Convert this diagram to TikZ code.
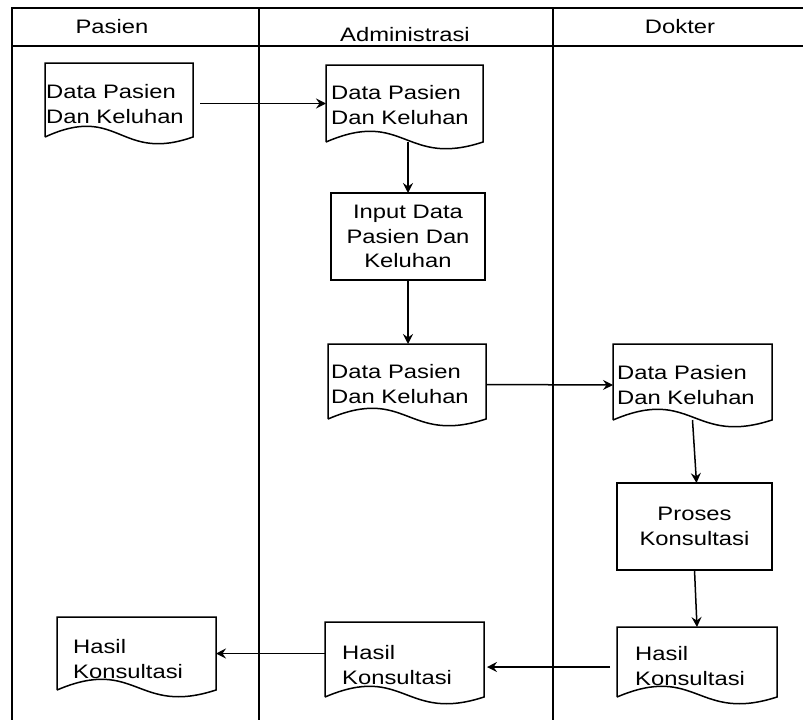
\documentclass[tikz,border=0pt]{standalone}
\usepackage{fontspec}
\setmainfont{Liberation Sans}[FakeStretch=1.22]
\usetikzlibrary{arrows.meta,calc}

\tikzset{
  lane/.style={line width=1.5pt},
  flow/.style={line width=1.5pt, -{Stealth[length=10pt,width=10pt,inset=3.5pt]}},
  docnode/.style={inner sep=0pt, outer sep=0pt},
  procbox/.style={draw, line width=1.5pt, align=center, inner sep=0pt, outer sep=0pt},
  doctext/.style={anchor=base west, align=left, inner sep=0pt},
  head/.style={inner sep=0pt},
}

% document symbol: name, left, top, right, bottom of the straight part
\newcommand\docshape[5]{%
  \node[docnode, minimum width={#4-#2}, minimum height={#5-#3}] (#1) at ({(#2+#4)/2},{(#3+#5)/2}) {};
  \draw[line width=1.5pt] (#1.south west) -- (#1.north west) -- (#1.north east) -- (#1.south east)
    .. controls ($(#1.south)+(0,26)$) and ($(#1.south)+(0,-34)$) .. (#1.south west);
}

\begin{document}
\begin{tikzpicture}[x=1pt, y=-1pt, font=\fontsize{19.5}{24.5}\selectfont]
\useasboundingbox (0,0) rectangle (803,720);

% swimlane frame
\draw[lane] (12,720) -- (12,8) -- (803,8);
\draw[lane] (12,46) -- (803,46);
\draw[lane] (259,8) -- (259,720);
\draw[lane] (553,8) -- (553,720);

% lane titles
\node[head] (hPasien) at (112,27) {Pasien};
\node[head] (hAdmin) at (405,35) {Administrasi};
\node[head] (hDokter) at (680,27) {Dokter};

% documents (text anchored on the baseline of its last line)
\docshape{d1}{45}{63}{193}{137}
\node[doctext] (t1) at (46,123) {Data Pasien\\Dan Keluhan};

\docshape{d2}{326}{65}{483}{142}
\node[doctext] (t2) at (331,124) {Data Pasien\\Dan Keluhan};

\docshape{d3}{328}{344}{486}{419}
\node[doctext] (t3) at (331,403) {Data Pasien\\Dan Keluhan};

\docshape{d4}{613}{344}{772}{420}
\node[doctext] (t4) at (617,404) {Data Pasien\\Dan Keluhan};

\docshape{d5}{617}{627}{777}{697}
\node[doctext] (t5) at (635,685) {Hasil\\Konsultasi};

\docshape{d6}{325}{622}{484}{697}
\node[doctext] (t6) at (342,684) {Hasil\\Konsultasi};

\docshape{d7}{57}{617}{216}{690}
\node[doctext] (t7) at (73,678) {Hasil\\Konsultasi};

% processes
\node[procbox, minimum width=154pt, minimum height=87pt] (b1) at (408,236.5) {Input Data\\Pasien Dan\\Keluhan};
\node[procbox, minimum width=155pt, minimum height=87pt] (b2) at (694.5,526.5) {Proses\\Konsultasi};

% flows
\draw[flow] ($(d1.east |- d2.west)+(7,0)$) -- (d2.west);
\draw[flow] (d2.south -| b1.north) -- (b1.north);
\draw[flow] (b1.south) -- (b1.south |- d3.north);
\draw[flow] ($(d3.east)+(0,3)$) -- ($(d4.west)+(0,3)$);
\draw[flow] (d4.south) -- ($(b2.north)+(2,0)$);
\draw[flow] (b2.south) -- (d5.north);
\draw[flow] ($(d5.west)+(-7,5)$) -- ($(d6.east)+(3,7.5)$);
\draw[flow] (d6.west |- d7.east) -- (d7.east);
\end{tikzpicture}
\end{document}
